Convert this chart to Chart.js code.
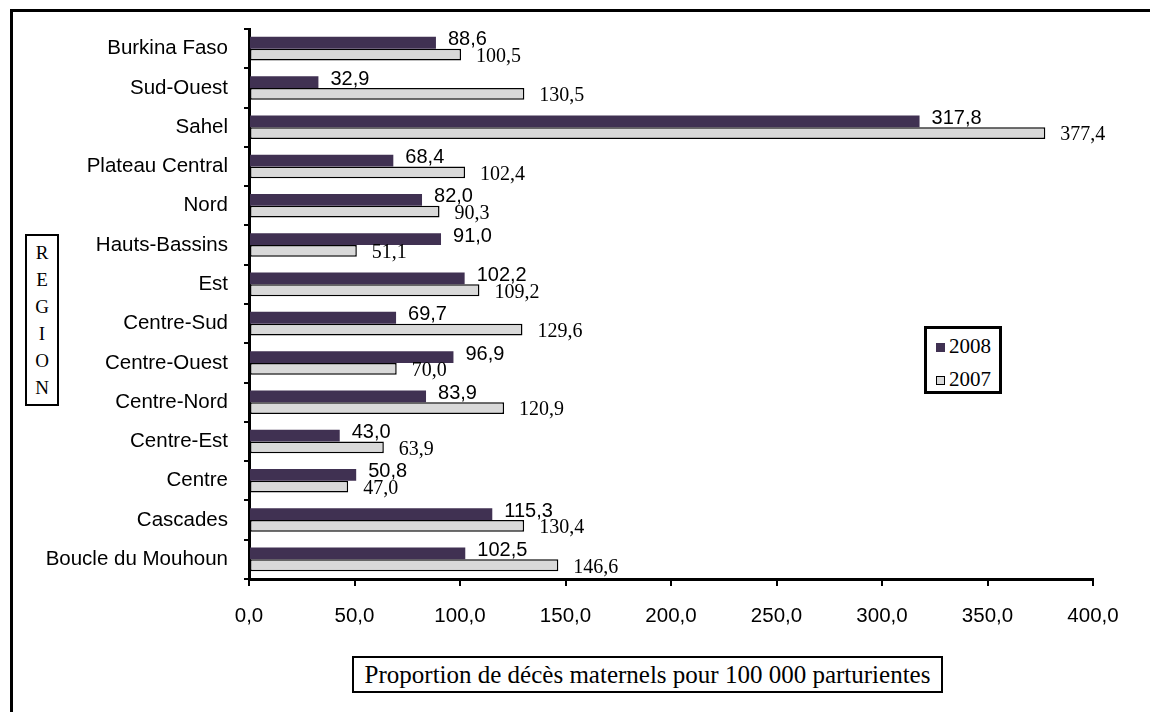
<!DOCTYPE html>
<html>
<head>
<meta charset="utf-8">
<script src="https://cdn.jsdelivr.net/npm/chart.js@4.4.0/dist/chart.umd.min.js"></script>
<style>
  html, body { margin: 0; padding: 0; background: #fff; overflow: hidden; }
  #wrap { position: relative; width: 1150px; height: 712px; overflow: hidden; }
  #frame { position: absolute; left: 10px; top: 9px; width: 1300px; height: 900px;
           border-left: 3px solid #000; border-top: 3px solid #000; }
  canvas { position: absolute; left: 0; top: 0; }
  .box { position: absolute; box-sizing: border-box; border: 2px solid #000; background: #fff;
         font-family: "Liberation Serif", "Times New Roman", serif; color: #000; }
  #region { left: 25px; top: 234px; width: 34px; height: 172px; font-size: 19px;
            line-height: 27px; text-align: center; padding-top: 3px; }
  #xtitle { left: 352px; top: 656px; width: 591px; height: 37px; font-size: 25px;
            line-height: 33px; text-align: center; white-space: nowrap; }
  #legend { left: 924px; top: 326px; width: 78px; height: 68px; border-width: 3px; font-size: 21px; }
  .item { position: absolute; left: 9px; height: 22px; line-height: 22px; white-space: nowrap; }
  .item span.sw { display: inline-block; width: 9px; height: 9px; box-sizing: border-box;
                  margin-right: 4px; vertical-align: 1px; }
</style>
</head>
<body>
<div id="wrap">
  <div id="frame"></div>
  <canvas id="c" width="1150" height="712"></canvas>
  <div class="box" id="region"></div>
  <div class="box" id="xtitle"></div>
  <div class="box" id="legend"></div>
</div>
<script>
// mortalité maternelle par région, 2008 vs 2007
const regions = ["Burkina Faso", "Sud-Ouest", "Sahel", "Plateau Central", "Nord", "Hauts-Bassins", "Est",
  "Centre-Sud", "Centre-Ouest", "Centre-Nord", "Centre-Est", "Centre", "Cascades", "Boucle du Mouhoun"];
const val2008 = [88.6, 32.9, 317.8, 68.4, 82.0, 91.0, 102.2, 69.7, 96.9, 83.9, 43.0, 50.8, 115.3, 102.5];
const val2007 = [100.5, 130.5, 377.4, 102.4, 90.3, 51.1, 109.2, 129.6, 70.0, 120.9, 63.9, 47.0, 130.4, 146.6];
const seriesNames = ["2008", "2007"];
const xMin = 0, xMax = 400, xStep = 50;
const yTitle = "REGION";
const xTitle = "Proportion de décès maternels pour 100 000 parturientes";

const dark = "#403152";
const light = "#d9d9d9";
const sans = "'Liberation Sans', Arial, sans-serif";
const serif = "'Liberation Serif', 'Times New Roman', serif";

const fmt = (v) => v.toFixed(1).replace(".", ",");

// titres encadrés
document.getElementById("region").innerHTML = yTitle.split("").join("<br>");
document.getElementById("xtitle").textContent = xTitle;

// légende
const legendEl = document.getElementById("legend");
[[seriesNames[0], dark, "none"], [seriesNames[1], light, "1.5px solid #000"]].forEach((it, i) => {
  const d = document.createElement("div");
  d.className = "item";
  d.style.top = (i === 0 ? 6 : 39) + "px";
  d.innerHTML = `<span class="sw" style="background:${it[1]};border:${it[2]}"></span>${it[0]}`;
  legendEl.appendChild(d);
});

// étiquettes de valeurs au bout des barres
const labelStyle = [
  { font: "20px " + sans, dx: 12, dy: -3 },
  { font: "20px " + serif, dx: 15, dy: 2 },
];
const valueLabels = {
  id: "valueLabels",
  afterDatasetsDraw(chart) {
    const ctx = chart.ctx;
    chart.data.datasets.forEach((ds, i) => {
      const meta = chart.getDatasetMeta(i);
      const st = labelStyle[i];
      ctx.save();
      ctx.font = st.font;
      ctx.fillStyle = "#000";
      ctx.textAlign = "left";
      ctx.textBaseline = "middle";
      meta.data.forEach((bar, j) => {
        ctx.fillText(fmt(ds.data[j]), bar.x + st.dx, bar.y + st.dy);
      });
      ctx.restore();
    });
  },
};

new Chart(document.getElementById("c"), {
  type: "bar",
  data: {
    labels: regions,
    datasets: [
      { label: seriesNames[0], data: val2008, backgroundColor: dark, borderWidth: 0 },
      { label: seriesNames[1], data: val2007, backgroundColor: light, borderColor: "#000",
        borderWidth: 1.5, borderSkipped: false },
    ],
  },
  options: {
    indexAxis: "y",
    responsive: false,
    animation: false,
    categoryPercentage: 0.6,
    barPercentage: 1.0,
    layout: { padding: { top: 29, right: 57, left: 0, bottom: 0 } },
    scales: {
      x: {
        min: xMin,
        max: xMax,
        afterFit: (s) => { s.height = 133; },
        border: { display: true, color: "#000", width: 3 },
        grid: { drawOnChartArea: false, drawTicks: true, tickLength: 7, tickColor: "#000", lineWidth: 2 },
        ticks: {
          stepSize: xStep,
          padding: 18,
          color: "#000",
          font: { family: sans, size: 20.5 },
          callback: (v) => fmt(v),
        },
      },
      y: {
        afterFit: (s) => { s.width = 249; },
        border: { display: true, color: "#000", width: 3 },
        grid: { drawOnChartArea: false, drawTicks: true, tickLength: 5, tickColor: "#000", lineWidth: 2 },
        ticks: {
          padding: 16,
          color: "#000",
          font: { family: sans, size: 20.5 },
        },
      },
    },
    plugins: {
      legend: { display: false },
      tooltip: { enabled: false },
    },
  },
  plugins: [valueLabels],
});
</script>
</body>
</html>
